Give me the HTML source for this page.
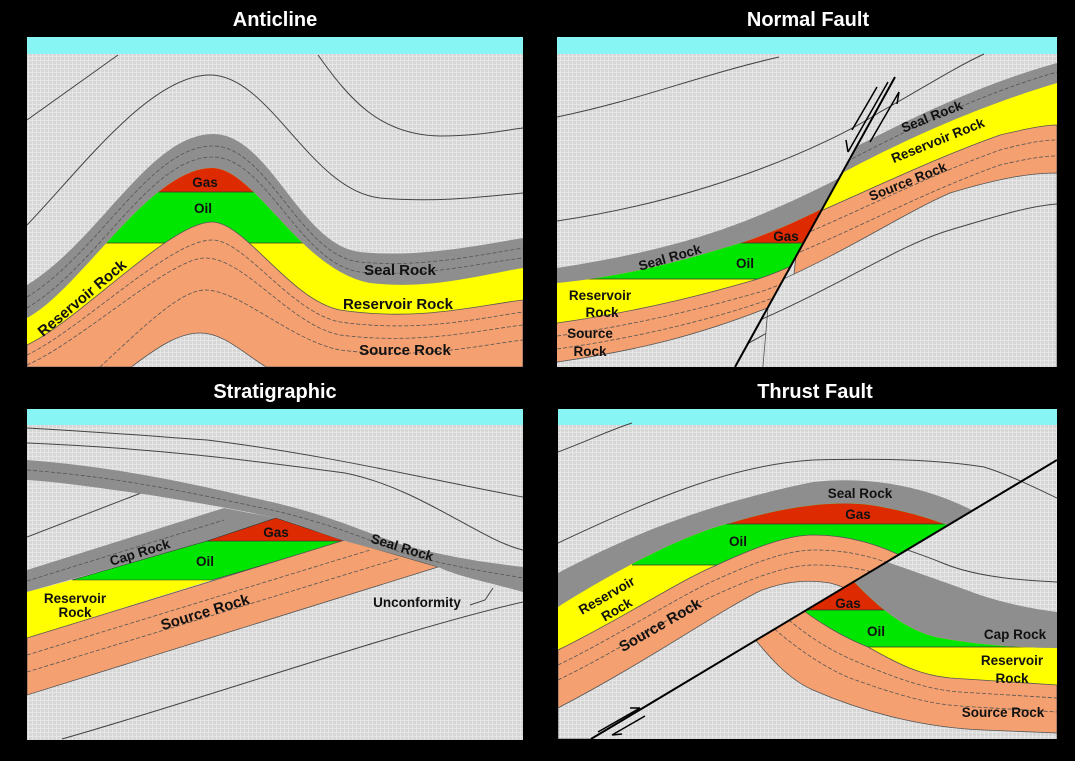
<!DOCTYPE html>
<html><head><meta charset="utf-8"><style>
html,body{margin:0;padding:0;background:#000;}
svg{display:block;}
text{font-family:"Liberation Sans",sans-serif;font-weight:bold;}
.t{fill:#fff;font-size:20px;}
.l{fill:#111;font-size:15px;}
.s{fill:#111;font-size:13.5px;}
.thin{fill:none;stroke:#444;stroke-width:1;}
.dash{fill:none;stroke:#555;stroke-width:0.8;stroke-dasharray:4 2;}
</style></head><body>
<svg width="1075" height="761" viewBox="0 0 1075 761" xmlns="http://www.w3.org/2000/svg">
<defs>
<pattern id="grid" width="4" height="4" patternUnits="userSpaceOnUse">
<rect width="4" height="4" fill="#d6d6d6"/><rect width="4" height="1" fill="#e6e6e6"/><rect width="1" height="4" fill="#e6e6e6"/>
</pattern>
<clipPath id="p1"><rect x="27" y="37" width="496" height="330"/></clipPath>
<clipPath id="p2"><rect x="557" y="37" width="500" height="330"/></clipPath>
<clipPath id="p3"><rect x="27" y="409" width="496" height="331"/></clipPath>
<clipPath id="p4"><rect x="558" y="409" width="499" height="330"/></clipPath>
<clipPath id="tlres"><path d="M27,318 C80,290 150,168 212,168 C255,168 300,270 370,283 C430,290 480,275 523,268 L523,367 L27,367Z"/></clipPath>
<clipPath id="nl"><polygon points="557,37 919,37 735,367 557,367"/></clipPath>
<clipPath id="nr"><polygon points="919,37 1057,37 1057,367 735,367"/></clipPath>
<clipPath id="nlres"><path d="M557,283 C640,275 700,255 741,243 C780,230 810,215 840,200 L900,170 L900,400 L540,400Z"/></clipPath>
<clipPath id="hw"><polygon points="558,409 1057,409 1057,460 591,739 558,739"/></clipPath>
<clipPath id="fw"><polygon points="591,739 1057,460 1057,739"/></clipPath>
<clipPath id="hwres"><path d="M558,607 C600,580 680,535 731,523 C780,508 830,500 870,505 C900,510 925,516 960,530 L1057,580 L1057,739 L558,739Z"/></clipPath>
<clipPath id="fwres"><path d="M845,572 C870,600 900,628 935,637 C980,646 1030,648 1057,648 L1057,760 L500,760 L500,572Z"/></clipPath>
</defs>
<rect width="1075" height="761" fill="#000"/>

<text class="t" x="275" y="26" text-anchor="middle">Anticline</text>
<text class="t" x="808" y="26" text-anchor="middle">Normal Fault</text>
<text class="t" x="275" y="398" text-anchor="middle">Stratigraphic</text>
<text class="t" x="815" y="398" text-anchor="middle">Thrust Fault</text>

<!-- Panel 1 Anticline -->
<g clip-path="url(#p1)">
<rect x="27" y="37" width="496" height="330" fill="url(#grid)"/>
<rect x="27" y="37" width="496" height="17" fill="#88f5f5"/>
<path class="thin" d="M27,120 L118,55"/>
<path class="thin" d="M27,225 C80,170 150,75 210,75 C270,75 310,190 380,198 C440,203 490,196 523,193"/>
<path class="thin" d="M318,55 C350,100 380,135 440,136 C480,136 505,130 523,128"/>
<path fill="#8e8e8e" d="M27,285 C100,240 150,134 213,134 C270,134 300,245 360,252 C420,258 480,245 523,238 L523,367 L27,367Z"/>
<path class="dash" d="M27,297 C100,252 150,146 213,146 C268,146 300,256 360,262 C420,268 480,255 523,248"/>
<path class="dash" d="M27,308 C100,264 150,157 213,157 C266,157 300,264 360,272 C420,278 480,263 523,258"/>
<g clip-path="url(#tlres)">
<rect x="27" y="37" width="496" height="330" fill="#ffff00"/>
<rect x="27" y="192" width="496" height="51" fill="#00e600"/>
<rect x="27" y="150" width="496" height="42" fill="#dd2a00"/>
<line x1="27" y1="192" x2="523" y2="192" stroke="#333" stroke-width="0.8"/>
<line x1="27" y1="243" x2="523" y2="243" stroke="#333" stroke-width="0.8"/>
</g>
<path fill="#f4a070" stroke="#555" stroke-width="0.8" d="M27,345 C80,320 170,222 212,222 C245,222 290,300 340,310 C420,322 480,305 523,300 L523,367 L27,367Z"/>
<path class="dash" d="M27,355 C80,330 170,240 212,240 C245,240 290,312 340,322 C420,333 480,318 523,312"/>
<path class="dash" d="M27,365 C80,342 170,258 205,258 C245,258 290,325 340,335 C420,345 480,330 523,325"/>
<path class="dash" d="M100,367 C140,330 180,290 205,290 C240,290 290,340 340,350 C420,360 480,345 523,340"/>
<path fill="url(#grid)" stroke="#555" stroke-width="0.8" d="M130,368 C160,345 180,333 200,333 C225,333 245,355 268,368Z"/>
<text class="s" x="205" y="187" text-anchor="middle">Gas</text>
<text class="s" x="203" y="213" text-anchor="middle">Oil</text>
<text class="l" x="400" y="275" text-anchor="middle">Seal Rock</text>
<text class="l" x="398" y="309" text-anchor="middle">Reservoir Rock</text>
<text class="l" x="405" y="355" text-anchor="middle">Source Rock</text>
<text class="l" x="82" y="303" text-anchor="middle" transform="rotate(-40 82 298)">Reservoir Rock</text>
</g>

<!-- Panel 2 Normal Fault -->
<g clip-path="url(#p2)">
<rect x="557" y="37" width="500" height="330" fill="url(#grid)"/>
<rect x="557" y="37" width="500" height="17" fill="#88f5f5"/>
<path class="thin" d="M557,117 C640,100 700,75 779,57"/>
<path class="thin" d="M557,221 C700,200 820,150 880,112 C920,90 950,70 984,54"/>
<path class="thin" d="M676,367 C700,358 720,350 745,340"/>
<path class="thin" d="M745,345 C830,300 900,240 950,230 C1000,215 1030,206 1057,204"/>
<g clip-path="url(#nl)">
<path fill="#8e8e8e" d="M557,268 C640,255 700,240 760,215 C800,198 820,188 845,175 L900,150 L900,400 L540,400Z"/>
<g clip-path="url(#nlres)">
<rect x="540" y="37" width="400" height="363" fill="#ffff00"/>
<rect x="540" y="243" width="400" height="36" fill="#00e600"/>
<rect x="540" y="100" width="400" height="143" fill="#dd2a00"/>
<line x1="540" y1="243" x2="940" y2="243" stroke="#333" stroke-width="0.8"/>
<line x1="540" y1="279" x2="940" y2="279" stroke="#333" stroke-width="0.8"/>
</g>
<path fill="#f4a070" stroke="#555" stroke-width="0.8" d="M557,323 C650,310 720,290 758,279 C780,272 800,262 830,248 L900,215 L900,400 L540,400Z"/>
<path class="dash" d="M557,336 C650,323 720,303 760,292 C790,282 810,270 840,258"/>
<path class="dash" d="M557,349 C650,336 720,316 762,302 C790,292 810,282 840,270"/>
<path fill="url(#grid)" stroke="#555" stroke-width="0.8" d="M557,362 C640,350 700,335 775,305 L900,250 L900,400 L540,400Z"/>
</g>
<g clip-path="url(#nr)">
<path fill="#8e8e8e" d="M820,165 C880,135 960,90 1057,63 L1057,400 L800,400Z"/>
<path class="dash" d="M820,175 C880,145 960,100 1057,72"/>
<path fill="#ffff00" d="M820,185 C880,152 960,112 1057,83 L1057,400 L800,400Z"/>
<path fill="#f4a070" stroke="#555" stroke-width="0.8" d="M800,220 C870,190 930,160 1000,135 C1030,128 1045,125 1057,125 L1057,400 L780,400Z"/>
<path class="dash" d="M800,236 C870,206 930,175 1000,150 C1030,142 1045,140 1057,140"/>
<path class="dash" d="M800,252 C870,222 930,190 1000,165 C1030,158 1045,156 1057,156"/>
<path fill="url(#grid)" stroke="#555" stroke-width="0.8" d="M770,285 C850,250 900,215 950,193 C1000,178 1030,173 1057,173 L1057,400 L760,400Z"/>
<path class="thin" d="M760,320 C850,280 900,245 950,230 C1000,215 1030,206 1057,204"/>
</g>
<line x1="735" y1="367" x2="895" y2="77" stroke="#000" stroke-width="2"/>
<path d="M888,82 L848,152 M848,152 L846,140 M852,130 L877,87" stroke="#000" stroke-width="1.5" fill="none"/>
<path d="M899,92 L870,142 M899,92 L897,104" stroke="#000" stroke-width="1.5" fill="none"/>
<text class="s" x="670" y="262" text-anchor="middle" transform="rotate(-16 670 258)">Seal Rock</text>
<text class="s" x="786" y="241" text-anchor="middle">Gas</text>
<text class="s" x="745" y="268" text-anchor="middle">Oil</text>
<text class="s" x="600" y="300" text-anchor="middle">Reservoir</text>
<text class="s" x="602" y="317" text-anchor="middle">Rock</text>
<text class="s" x="590" y="338" text-anchor="middle">Source</text>
<text class="s" x="590" y="356" text-anchor="middle">Rock</text>
<text class="s" x="932" y="121" text-anchor="middle" transform="rotate(-22 932 117)">Seal Rock</text>
<text class="s" x="938" y="145" text-anchor="middle" transform="rotate(-22 938 141)">Reservoir Rock</text>
<text class="s" x="908" y="186" text-anchor="middle" transform="rotate(-22 908 182)">Source Rock</text>
</g>

<!-- Panel 3 Stratigraphic -->
<g clip-path="url(#p3)">
<rect x="27" y="409" width="496" height="331" fill="url(#grid)"/>
<rect x="27" y="409" width="496" height="16" fill="#88f5f5"/>
<path class="thin" d="M27,428 C100,432 150,436 207,440 C330,455 440,482 523,497"/>
<path class="thin" d="M27,443 C150,448 250,460 345,473 C420,488 480,540 523,550"/>
<path class="thin" d="M27,537 L141,493"/>
<path class="thin" d="M62,739 C200,700 400,630 523,602"/>
<polygon fill="#8e8e8e" points="27,570 224,508 276,518 207,541 27,592"/>
<path class="dash" d="M27,581 L224,520"/>
<polygon fill="#ffff00" points="27,592 72,580 212,580 27,638"/>
<polygon fill="#00e600" stroke="#333" stroke-width="0.6" points="72,580 207,541 345,541 212,580"/>
<polygon fill="#dd2a00" stroke="#333" stroke-width="0.6" points="207,541 276,518 345,541"/>
<polygon fill="#f4a070" stroke="#555" stroke-width="0.8" points="27,638 345,540 438,567 27,695"/>
<path class="dash" d="M27,655 L370,550"/>
<path class="dash" d="M27,672 L400,558"/>
<path fill="#8e8e8e" d="M27,460 C130,468 210,488 276,503 C330,516 360,530 400,544 C450,558 490,563 523,567 L523,592 C480,580 460,577 438,567 C400,555 370,548 345,541 C310,530 290,521 276,518 C240,510 200,503 150,495 C100,488 60,482 27,480Z"/>
<path class="dash" d="M27,470 C130,478 210,497 276,511 C330,524 370,540 400,552 C450,567 490,572 523,578"/>
<path class="thin" d="M470,605 L485,600 L493,588"/>
<text class="s" x="140" y="557" text-anchor="middle" transform="rotate(-17 140 553)">Cap Rock</text>
<text class="s" x="276" y="537" text-anchor="middle">Gas</text>
<text class="s" x="205" y="566" text-anchor="middle">Oil</text>
<text class="s" x="75" y="603" text-anchor="middle">Reservoir</text>
<text class="s" x="75" y="617" text-anchor="middle">Rock</text>
<text class="l" x="205" y="617" text-anchor="middle" transform="rotate(-17 205 612)">Source Rock</text>
<text class="s" x="402" y="552" text-anchor="middle" transform="rotate(17 402 548)">Seal Rock</text>
<text class="s" x="417" y="607" text-anchor="middle">Unconformity</text>
</g>

<!-- Panel 4 Thrust Fault -->
<g clip-path="url(#p4)">
<rect x="558" y="409" width="499" height="330" fill="url(#grid)"/>
<rect x="558" y="409" width="499" height="16" fill="#88f5f5"/>
<path class="thin" d="M558,452 C590,440 610,430 632,423"/>
<path class="thin" d="M558,543 C650,500 730,465 813,460 C880,458 940,460 984,467 C1010,475 1040,490 1057,498"/>
<g clip-path="url(#hw)">
<path fill="#8e8e8e" d="M558,573 C620,540 700,505 813,482 C880,475 940,490 990,520 L1057,560 L1057,739 L558,739Z"/>
<path fill="#ffff00" d="M558,607 C600,580 680,535 731,523 C780,508 830,500 870,505 C900,510 925,516 960,530 L1057,580 L1057,739 L558,739Z"/>
<g clip-path="url(#hwres)">
<rect x="632" y="409" width="425" height="156" fill="#00e600"/>
<rect x="700" y="409" width="357" height="115" fill="#dd2a00"/>
<line x1="700" y1="524" x2="1057" y2="524" stroke="#333" stroke-width="0.8"/>
<line x1="632" y1="565" x2="1057" y2="565" stroke="#333" stroke-width="0.8"/>
</g>
<path fill="#f4a070" stroke="#555" stroke-width="0.8" d="M558,650 C620,620 680,580 717,565 C760,545 790,535 813,535 C850,535 880,545 910,560 L1057,640 L1057,739 L558,739Z"/>
<path class="dash" d="M558,665 C620,635 680,595 720,578 C760,560 790,550 815,550 C850,550 880,558 910,572"/>
<path class="dash" d="M558,680 C620,650 680,610 722,592 C760,575 790,565 815,565 C850,565 880,572 910,585"/>
<path fill="url(#grid)" stroke="#555" stroke-width="0.8" d="M558,708 C650,660 720,610 762,590 C790,580 810,580 830,583 C850,588 870,600 900,620 L1057,739 L558,739Z"/>
</g>
<g clip-path="url(#fw)">
<path class="thin" d="M880,540 C900,548 915,552 940,562 C970,575 1010,580 1057,582"/>
<path fill="#8e8e8e" d="M870,556 C910,570 950,584 980,595 C1010,605 1040,610 1057,612 L1057,760 L500,760 L500,556Z"/>
<path fill="#ffff00" d="M845,572 C870,600 900,628 935,637 C980,646 1030,648 1057,648 L1057,760 L500,760 L500,572Z"/>
<g clip-path="url(#fwres)">
<rect x="558" y="409" width="499" height="238" fill="#00e600"/>
<rect x="558" y="409" width="499" height="201" fill="#dd2a00"/>
<line x1="558" y1="610" x2="1057" y2="610" stroke="#333" stroke-width="0.8"/>
<line x1="558" y1="647" x2="1057" y2="647" stroke="#333" stroke-width="0.8"/>
</g>
<path fill="#f4a070" stroke="#555" stroke-width="0.8" d="M790,600 C820,625 850,640 868,647 C900,665 920,675 950,678 L1057,685 L1057,760 L500,760 L500,600Z"/>
<path class="dash" d="M780,612 C810,640 840,655 860,663 C900,680 930,690 960,692 L1057,698"/>
<path class="dash" d="M770,625 C800,652 830,670 850,678 C900,696 930,704 960,706 L1057,712"/>
<path fill="url(#grid)" stroke="#555" stroke-width="0.8" d="M740,620 C770,660 790,680 813,690 C870,715 930,728 984,730 L1057,733 L1057,760 L500,760 L500,620Z"/>
</g>
<line x1="591" y1="739" x2="1057" y2="460" stroke="#000" stroke-width="2"/>
<path d="M598,732 L640,708 M640,708 L630,708 M612,735 L645,716 M612,735 L622,734" stroke="#000" stroke-width="1.5" fill="none"/>
<text class="s" x="860" y="498" text-anchor="middle">Seal Rock</text>
<text class="s" x="858" y="519" text-anchor="middle">Gas</text>
<text class="s" x="738" y="546" text-anchor="middle">Oil</text>
<text class="s" x="607" y="600" text-anchor="middle" transform="rotate(-30 607 596)">Reservoir</text>
<text class="s" x="617" y="614" text-anchor="middle" transform="rotate(-30 617 610)">Rock</text>
<text class="l" x="660" y="630" text-anchor="middle" transform="rotate(-30 660 625)">Source Rock</text>
<text class="s" x="848" y="608" text-anchor="middle">Gas</text>
<text class="s" x="876" y="636" text-anchor="middle">Oil</text>
<text class="s" x="1015" y="639" text-anchor="middle">Cap Rock</text>
<text class="s" x="1012" y="665" text-anchor="middle">Reservoir</text>
<text class="s" x="1012" y="683" text-anchor="middle">Rock</text>
<text class="s" x="1003" y="717" text-anchor="middle">Source Rock</text>
</g>
</svg>
</body></html>
